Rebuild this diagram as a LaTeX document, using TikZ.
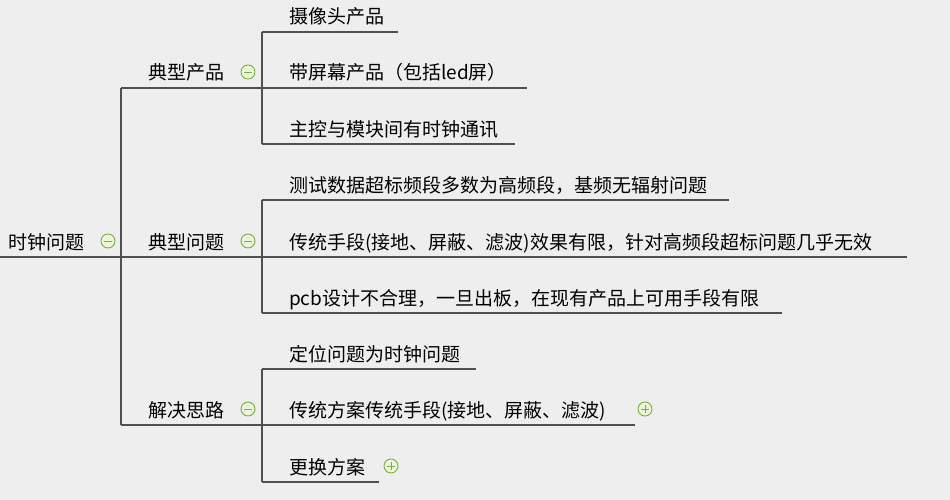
\documentclass[tikz,border=0pt]{standalone}
\usepackage{fontspec}
\setmainfont{Noto Sans CJK SC}
\definecolor{bgcol}{HTML}{EEEEEE}
\definecolor{linecol}{HTML}{505050}
\definecolor{iconstroke}{HTML}{78B040}
\definecolor{iconfill}{HTML}{EEF6DC}
\tikzset{
  lbl/.style={anchor=base west, inner sep=0pt, font=\fontsize{19}{19}\selectfont, text=black},
  branch/.style={draw=linecol, line width=2pt},
  pics/collapse/.style={code={
    \draw[iconstroke, fill=iconfill, line width=0.9pt] (0,0) circle (7pt);
    \draw[iconstroke, line width=0.9pt] (-4pt,0) -- (4pt,0);}},
  pics/expand/.style={code={
    \draw[iconstroke, fill=iconfill, line width=0.9pt] (0,0) circle (7pt);
    \draw[iconstroke, line width=0.9pt] (-4pt,0) -- (4pt,0) (0,-4pt) -- (0,4pt);}}
}
\begin{document}
\begin{tikzpicture}[x=1pt,y=-1pt]
\fill[bgcol] (0,0) rectangle (950,500);
\useasboundingbox (0,0) rectangle (950,500);

% root
\node[lbl] (root) at (8,249) {时钟问题};
\pic at (108,241) {collapse};
\coordinate (rootL) at (0,257);
\coordinate (trunk) at (121,257);
\draw[branch] (rootL) -- (trunk);

% level 1
\coordinate (t1) at (121,88);
\coordinate (t2) at (121,257);
\coordinate (t3) at (121,425);
\draw[branch] (t1) -- (t3);

\node[lbl] (prod) at (148,80) {典型产品};
\node[lbl] (prob) at (148,249) {典型问题};
\node[lbl] (sol)  at (148,417) {解决思路};
\pic at (248,72) {collapse};
\pic at (248,241) {collapse};
\pic at (248,409) {collapse};

\coordinate (e1) at (262,88);
\coordinate (e2) at (262,257);
\coordinate (e3) at (262,425);
\draw[branch] (t1) -- (e1);
\draw[branch] (t2) -- (e2);
\draw[branch] (t3) -- (e3);

% group 1
\coordinate (g1a) at (262,32);
\coordinate (g1c) at (262,144);
\draw[branch] (g1a) -- (g1c);
\node[lbl] (p1) at (289,24) {摄像头产品};
\node[lbl] (p2) at (289,80) {带屏幕产品（包括led屏）};
\node[lbl] (p3) at (289,136) {主控与模块间有时钟通讯};
\coordinate (p1e) at (398,32);
\coordinate (p2e) at (527,88);
\coordinate (p3e) at (515,144);
\draw[branch] (g1a) -- (p1e);
\draw[branch] (e1) -- (p2e);
\draw[branch] (g1c) -- (p3e);

% group 2
\coordinate (g2a) at (262,200);
\coordinate (g2c) at (262,313);
\draw[branch] (g2a) -- (g2c);
\node[lbl] (q1) at (289,192) {测试数据超标频段多数为高频段，基频无辐射问题};
\node[lbl] (q2) at (289,249) {传统手段(接地、屏蔽、滤波)效果有限，针对高频段超标问题几乎无效};
\node[lbl] (q3) at (289,305) {pcb设计不合理，一旦出板，在现有产品上可用手段有限};
\coordinate (q1e) at (729,200);
\coordinate (q2e) at (907,257);
\coordinate (q3e) at (782,313);
\draw[branch] (g2a) -- (q1e);
\draw[branch] (e2) -- (q2e);
\draw[branch] (g2c) -- (q3e);

% group 3
\coordinate (g3a) at (262,369);
\coordinate (g3c) at (262,482);
\draw[branch] (g3a) -- (g3c);
\node[lbl] (s1) at (289,361) {定位问题为时钟问题};
\node[lbl] (s2) at (289,417) {传统方案传统手段(接地、屏蔽、滤波)};
\node[lbl] (s3) at (289,474) {更换方案};
\pic at (645,409) {expand};
\pic at (391,466) {expand};
\coordinate (s1e) at (476,369);
\coordinate (s2e) at (635,425);
\coordinate (s3e) at (379,482);
\draw[branch] (g3a) -- (s1e);
\draw[branch] (e3) -- (s2e);
\draw[branch] (g3c) -- (s3e);
\end{tikzpicture}
\end{document}
